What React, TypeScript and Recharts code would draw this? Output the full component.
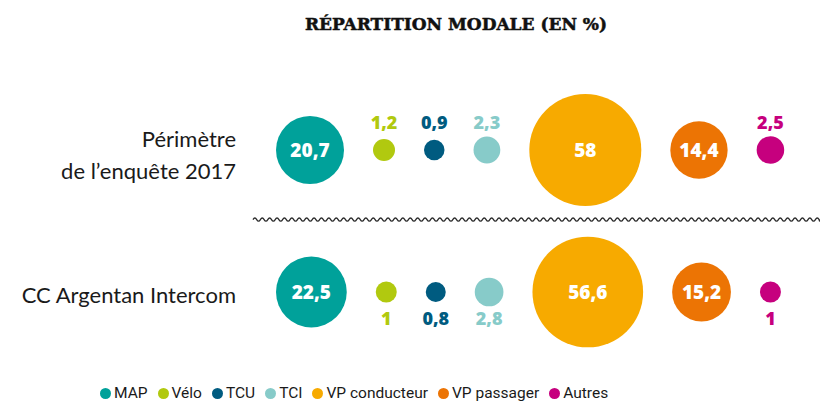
import React from "react";
import { ScatterChart, Scatter, XAxis, YAxis, ZAxis, ReferenceLine, Legend } from "recharts";

// Mode shares (%) for the two survey areas
const categories = ["MAP", "Vélo", "TCU", "TCI", "VP conducteur", "VP passager", "Autres"];
const colors = ["#00a19a", "#b1c90f", "#005b80", "#87cbc9", "#f7aa00", "#ec7404", "#c6007e"];
const rowNames = ["Périmètre\nde l’enquête 2017", "CC Argentan Intercom"];
const perimetre2017 = [20.7, 1.2, 0.9, 2.3, 58, 14.4, 2.5];
const argentanIntercom = [22.5, 1, 0.8, 2.8, 56.6, 15.2, 1];

const Z_DOMAIN = [0, 58];
const Z_RANGE = [180, 9854]; // bubble area in px²
const GAP = 29;
const LABEL_FONT = "'Open Sans', sans-serif";

const radius = (v: number) =>
  Math.sqrt((Z_RANGE[0] + (v / Z_DOMAIN[1]) * (Z_RANGE[1] - Z_RANGE[0])) / Math.PI);

// pack bubbles side by side, left to right, with a constant gap
function packRow(values: number[], rowY: number, below: boolean) {
  let x = 0;
  let prev = 0;
  return values.map((v, i) => {
    const r = radius(v);
    x = i === 0 ? r : x + prev + GAP + r;
    prev = r;
    return { x, y: rowY, z: v, name: categories[i], color: colors[i], below };
  });
}

const row1 = packRow(perimetre2017, 1, false);
const row2 = packRow(argentanIntercom, 0, true);

const fmt = (v: number) => String(v).replace(".", ",");

function Bubble(props: any) {
  const { cx, cy, payload } = props;
  const r = props.width ? props.width / 2 : radius(payload.z);
  const inside = payload.z >= 10;
  return (
    <g>
      <circle cx={cx} cy={cy} r={r} fill={payload.color} />
      <text
        x={cx}
        y={inside ? cy : payload.below ? cy + 26 : cy - 28}
        textAnchor="middle"
        dominantBaseline="central"
        fill={inside ? "#fff" : payload.color}
        fontFamily={LABEL_FONT}
        fontWeight={800}
        fontSize={inside ? 19 : 18}
      >
        {fmt(payload.z)}
      </text>
    </g>
  );
}

function RowTick(props: any) {
  const { x, y, payload } = props;
  const lines = rowNames[1 - payload.value].split("\n");
  const n = lines.length;
  return (
    <g>
      {lines.map((l, i) => (
        <text
          key={i}
          x={x}
          y={y + 11 - (n - 1) * 14 + i * 32}
          textAnchor="end"
          fill="#1a1a1a"
          fontFamily="Lato, sans-serif"
          fontSize={22}
        >
          {l}
        </text>
      ))}
    </g>
  );
}

function Wave(props: any) {
  const { x1, x2, y1 } = props;
  const period = 7.4;
  const amp = 1.6;
  let d = `M${x1},${y1}`;
  let x = x1;
  let up = true;
  while (x < x2) {
    const nx = Math.min(x + period / 2, x2);
    d += ` Q${(x + nx) / 2},${y1 + (up ? -2 * amp : 2 * amp)} ${nx},${y1}`;
    x = nx;
    up = !up;
  }
  return <path d={d} fill="none" stroke="#2a2a2a" strokeWidth={1.3} />;
}

function LegendContent() {
  return (
    <div
      style={{
        display: "flex",
        alignItems: "center",
        paddingLeft: 100,
        fontFamily: "Roboto, sans-serif",
        fontSize: 15.5,
        color: "#1a1a1a",
      }}
    >
      {categories.map((c, i) => (
        <div key={c} style={{ display: "flex", alignItems: "center", marginRight: 10 }}>
          <span
            style={{
              width: 11,
              height: 11,
              borderRadius: 6,
              background: colors[i],
              marginRight: 3,
              display: "inline-block",
            }}
          />
          <span>{c}</span>
        </div>
      ))}
    </div>
  );
}

export default function App() {
  return (
    <div style={{ position: "absolute", left: 0, top: 0, width: 820, height: 405, background: "#fff" }}>
      <div
        style={{
          position: "absolute",
          left: 92,
          width: 728,
          top: 14,
          textAlign: "center",
          fontFamily: "'DejaVu Serif', serif",
          fontWeight: 700,
          fontSize: 17,
          WebkitTextStroke: "0.5px #111",
          color: "#111",
        }}
      >
        RÉPARTITION MODALE (EN %)
      </div>
      <ScatterChart width={820} height={405} margin={{ top: 150, right: 0, bottom: 113, left: 0 }}>
        <XAxis type="number" dataKey="x" domain={[0, 544]} hide />
        <YAxis
          type="number"
          dataKey="y"
          domain={[0, 1]}
          ticks={[0, 1]}
          width={276}
          axisLine={false}
          tickLine={false}
          tickSize={6}
          tickMargin={34}
          tick={<RowTick />}
        />
        <ZAxis type="number" dataKey="z" domain={Z_DOMAIN} range={Z_RANGE} />
        <ReferenceLine
          segment={[
            { x: -23, y: 0.51 },
            { x: 544, y: 0.51 },
          ]}
          ifOverflow="visible"
          shape={(p: any) => <Wave {...p} />}
        />
        <Scatter data={row1} shape={<Bubble />} isAnimationActive={false} />
        <Scatter data={row2} shape={<Bubble />} isAnimationActive={false} />
        <Legend
          verticalAlign="middle"
          align="center"
          layout="horizontal"
          wrapperStyle={{ top: 384, left: 0, width: 820 }}
          content={() => <LegendContent />}
        />
      </ScatterChart>
    </div>
  );
}
